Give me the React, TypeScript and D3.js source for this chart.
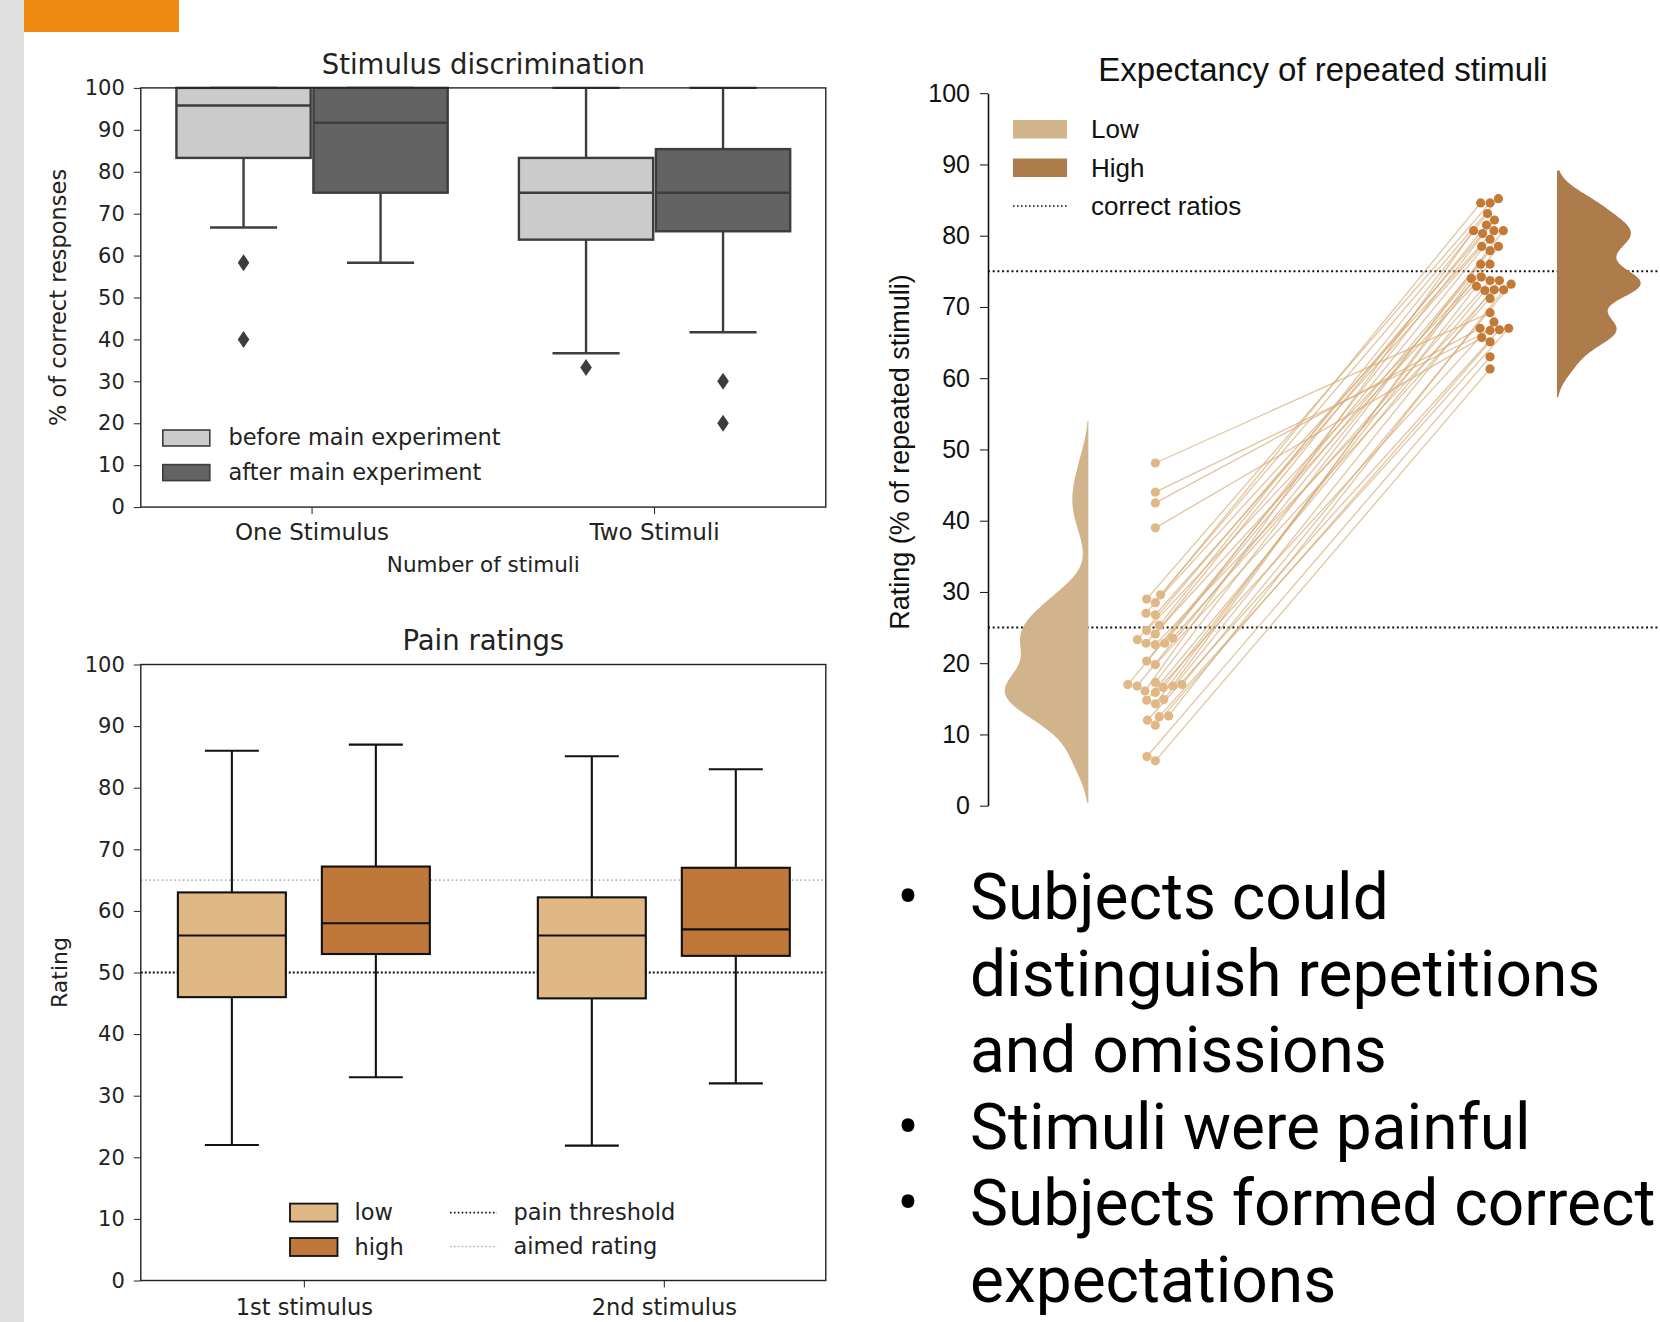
import React, { useEffect, useRef } from "react";
import * as d3 from "d3";

// Stimulus discrimination: [lower whisker, q1, median, q3, upper whisker]
const discCategories = ["One Stimulus", "Two Stimuli"];
const discGroups = ["before main experiment", "after main experiment"];
const discBefore = [
  [66.7, 83.3, 95.8, 100, 100],
  [36.7, 63.8, 75, 83.3, 100],
];
const discAfter = [
  [58.3, 75, 91.7, 100, 100],
  [41.7, 65.8, 75, 85.4, 100],
];
const discBeforeOutliers = [[58.3, 40], [33.3]];
const discAfterOutliers = [[], [30, 20]];

// Pain ratings
const painCategories = ["1st stimulus", "2nd stimulus"];
const painGroups = ["low", "high"];
const painLow = [
  [22, 46, 56, 63, 86],
  [21.9, 45.8, 56, 62.2, 85.1],
];
const painHigh = [
  [33, 53, 58, 67.2, 87],
  [32, 52.7, 57, 67, 83],
];
const painThreshold = 50;
const aimedRating = 65;

// Expectancy of repeated stimuli, one entry per subject (low, high)
const expLow = [
  48.1, 44.0, 42.5, 39.0, 29.6, 29.0, 28.5, 27.0, 26.8, 25.3, 24.6, 24.1,
  23.5, 23.3, 22.8, 22.8, 22.6, 20.3, 19.8, 17.3, 17.0, 17.0, 16.8, 16.8,
  16.6, 16.1, 15.9, 14.9, 14.8, 14.3, 12.6, 12.5, 12.0, 11.3, 6.9, 6.3,
];
const expHigh = [
  69.2, 66.7, 67.0, 65.7, 85.2, 84.6, 80.7, 84.6, 78.5, 83.1, 76.0, 81.5,
  73.7, 80.3, 74.2, 82.2, 72.4, 79.5, 71.2, 80.7, 73.2, 77.9, 74.0, 76.0,
  72.9, 80.7, 67.9, 73.7, 72.3, 78.5, 72.4, 67.0, 66.8, 65.1, 63.0, 61.3,
];
const expLabels = ["Low", "High"];
const correctRatios = [25, 75];

const bulletItems = [
  ["Subjects could", "distinguish repetitions", "and omissions"],
  ["Stimuli were painful"],
  ["Subjects formed correct", "expectations"],
];

const DEJAVU = "'DejaVu Sans', sans-serif";
const ARIAL = "'Liberation Sans', Arial, sans-serif";

function drawBox(g, y, cx, w, s, fill, stroke, sw) {
  const [lo, q1, med, q3, hi] = s;
  g.append("line").attr("x1", cx).attr("x2", cx).attr("y1", y(q1)).attr("y2", y(lo))
    .attr("stroke", stroke).attr("stroke-width", sw);
  g.append("line").attr("x1", cx).attr("x2", cx).attr("y1", y(q3)).attr("y2", y(hi))
    .attr("stroke", stroke).attr("stroke-width", sw);
  [lo, hi].forEach((v) => {
    g.append("line").attr("x1", cx - w / 4).attr("x2", cx + w / 4)
      .attr("y1", y(v)).attr("y2", y(v))
      .attr("stroke", stroke).attr("stroke-width", sw);
  });
  g.append("rect").attr("x", cx - w / 2).attr("y", y(q3))
    .attr("width", w).attr("height", y(q1) - y(q3))
    .attr("fill", fill).attr("stroke", stroke).attr("stroke-width", sw);
  g.append("line").attr("x1", cx - w / 2).attr("x2", cx + w / 2)
    .attr("y1", y(med)).attr("y2", y(med))
    .attr("stroke", stroke).attr("stroke-width", sw);
}

// seaborn-like swarm: place each point at the smallest offset that does not overlap
function swarm(values, y, diam) {
  const order = d3.range(values.length).sort((a, b) => values[a] - values[b]);
  const placed = [];
  const offs = new Array(values.length).fill(0);
  for (const i of order) {
    const py = y(values[i]);
    const near = placed.filter((p) => Math.abs(p.y - py) < diam);
    const cands = [0];
    near.forEach((n) => {
      const dx = Math.sqrt(diam * diam - (n.y - py) ** 2);
      cands.push(n.x - dx, n.x + dx);
    });
    cands.sort((a, b) => Math.abs(a) - Math.abs(b));
    const ok = cands.find((c) =>
      near.every((n) => (n.x - c) ** 2 + (n.y - py) ** 2 >= diam * diam - 0.01)
    );
    offs[i] = ok;
    placed.push({ x: ok, y: py });
  }
  return offs;
}

function kde(values, bwFactor, cut) {
  const bw = bwFactor * d3.deviation(values);
  const lo = d3.min(values) - cut * bw;
  const hi = d3.max(values) + cut * bw;
  return d3.range(0, 241).map((k) => {
    const v = lo + ((hi - lo) * k) / 240;
    return [v, d3.mean(values, (d) => Math.exp(-0.5 * ((v - d) / bw) ** 2))];
  });
}

function styleAxis(g, family, size, color) {
  g.attr("font-family", family).attr("font-size", size);
  g.selectAll("text").attr("fill", color);
  g.selectAll("line").attr("stroke", color);
}

const App = () => {
  const ref = useRef(null);

  useEffect(() => {
    if (!ref.current) return;
    const svg = d3.select(ref.current);
    svg.selectAll("*").remove();

    svg.append("rect").attr("width", 1660).attr("height", 1322).attr("fill", "#fff");
    svg.append("rect").attr("x", 0).attr("y", 0).attr("width", 24).attr("height", 1322).attr("fill", "#e0e0e0");
    svg.append("rect").attr("x", 24).attr("y", 0).attr("width", 155).attr("height", 32).attr("fill", "#ef8a12");

    const ink = "#222";

    // ---------- Stimulus discrimination ----------
    {
      const L = 140.8, R = 825.8, T = 87.9, B = 507.1;
      const g = svg.append("g");
      const x = d3.scaleBand().domain(discCategories).range([L, R]);
      const y = d3.scaleLinear().domain([0, 100]).range([B, T]);
      const bw = x.bandwidth();
      const w = (bw * 0.8) / 2;
      const line = "#3d3d3d";
      const fills = ["#cbcbcb", "#636363"];
      [discBefore, discAfter].forEach((set, gi) => {
        set.forEach((s, ci) => {
          const cx = x(discCategories[ci]) + bw / 2 + (gi === 0 ? -w / 2 : w / 2);
          drawBox(g, y, cx, w * 0.98, s, fills[gi], line, 2.4);
        });
      });
      [discBeforeOutliers, discAfterOutliers].forEach((set, gi) => {
        set.forEach((vals, ci) => {
          const cx = x(discCategories[ci]) + bw / 2 + (gi === 0 ? -w / 2 : w / 2);
          vals.forEach((v) => {
            g.append("path").attr("d", "M0,-8.5L5.8,0L0,8.5L-5.8,0Z")
              .attr("transform", `translate(${cx},${y(v)})`).attr("fill", line);
          });
        });
      });
      g.append("rect").attr("x", L).attr("y", T).attr("width", R - L).attr("height", B - T)
        .attr("fill", "none").attr("stroke", ink).attr("stroke-width", 1.4);
      const ay = g.append("g").attr("transform", `translate(${L},0)`)
        .call(d3.axisLeft(y).tickValues(d3.range(0, 101, 10)).tickSize(7).tickPadding(9));
      ay.select(".domain").remove();
      styleAxis(ay, DEJAVU, 21, ink);
      const ax = g.append("g").attr("transform", `translate(0,${B})`)
        .call(d3.axisBottom(x).tickSize(7).tickPadding(10));
      ax.select(".domain").remove();
      styleAxis(ax, DEJAVU, 23, ink);

      g.append("text").attr("x", (L + R) / 2).attr("y", 74).attr("text-anchor", "middle")
        .attr("font-family", DEJAVU).attr("font-size", 27.5).attr("fill", ink)
        .text("Stimulus discrimination");
      g.append("text").attr("x", (L + R) / 2).attr("y", 572).attr("text-anchor", "middle")
        .attr("font-family", DEJAVU).attr("font-size", 21.5).attr("fill", ink)
        .text("Number of stimuli");
      g.append("text").attr("transform", `translate(66,${(T + B) / 2}) rotate(-90)`)
        .attr("text-anchor", "middle").attr("font-family", DEJAVU).attr("font-size", 22.5)
        .attr("fill", ink).text("% of correct responses");

      discGroups.forEach((name, i) => {
        const ly = 430 + i * 34.6;
        g.append("rect").attr("x", 162.8).attr("y", ly).attr("width", 47).attr("height", 16)
          .attr("fill", fills[i]).attr("stroke", line).attr("stroke-width", 1.6);
        g.append("text").attr("x", 228.4).attr("y", ly + 15).attr("font-family", DEJAVU)
          .attr("font-size", 22.5).attr("fill", ink).text(name);
      });
    }

    // ---------- Pain ratings ----------
    {
      const L = 140.8, R = 825.8, T = 664.5, B = 1280.5;
      const g = svg.append("g");
      const x = d3.scaleLinear().domain([-0.453, 1.45]).range([L, R]);
      const y = d3.scaleLinear().domain([0, 100]).range([B, T]);
      const unit = x(1) - x(0);
      const w = unit * 0.3;
      const fills = ["#dfb886", "#bf773a"];

      g.append("line").attr("x1", L).attr("x2", R).attr("y1", y(aimedRating)).attr("y2", y(aimedRating))
        .attr("stroke", "#b4b4b4").attr("stroke-width", 1.6).attr("stroke-dasharray", "1.6,2.6");
      g.append("line").attr("x1", L).attr("x2", R).attr("y1", y(painThreshold)).attr("y2", y(painThreshold))
        .attr("stroke", "#111").attr("stroke-width", 2.2).attr("stroke-dasharray", "2,2");

      [painLow, painHigh].forEach((set, gi) => {
        set.forEach((s, ci) => {
          drawBox(g, y, x(ci + (gi === 0 ? -0.2 : 0.2)), w, s, fills[gi], "#111", 2.1);
        });
      });

      g.append("rect").attr("x", L).attr("y", T).attr("width", R - L).attr("height", B - T)
        .attr("fill", "none").attr("stroke", ink).attr("stroke-width", 1.4);
      const ay = g.append("g").attr("transform", `translate(${L},0)`)
        .call(d3.axisLeft(y).tickValues(d3.range(0, 101, 10)).tickSize(7).tickPadding(9));
      ay.select(".domain").remove();
      styleAxis(ay, DEJAVU, 21, ink);
      const ax = g.append("g").attr("transform", `translate(0,${B})`)
        .call(d3.axisBottom(x).tickValues([0, 1]).tickFormat((d) => painCategories[d])
          .tickSize(7).tickPadding(12));
      ax.select(".domain").remove();
      styleAxis(ax, DEJAVU, 22.5, ink);

      g.append("text").attr("x", (L + R) / 2).attr("y", 650).attr("text-anchor", "middle")
        .attr("font-family", DEJAVU).attr("font-size", 27.5).attr("fill", ink).text("Pain ratings");
      g.append("text").attr("transform", `translate(67,${(T + B) / 2}) rotate(-90)`)
        .attr("text-anchor", "middle").attr("font-family", DEJAVU).attr("font-size", 22)
        .attr("fill", ink).text("Rating");

      painGroups.forEach((name, i) => {
        const ly = 1203.6 + i * 34.4;
        g.append("rect").attr("x", 290).attr("y", ly).attr("width", 47.5).attr("height", 18)
          .attr("fill", fills[i]).attr("stroke", "#111").attr("stroke-width", 1.8);
        g.append("text").attr("x", 354.6).attr("y", ly + 16.5).attr("font-family", DEJAVU)
          .attr("font-size", 22.5).attr("fill", ink).text(name);
      });
      [["pain threshold", "#111", 1.8], ["aimed rating", "#b4b4b4", 1.5]].forEach(([name, col, sw], i) => {
        const ly = 1212.6 + i * 34;
        g.append("line").attr("x1", 450).attr("x2", 497).attr("y1", ly).attr("y2", ly)
          .attr("stroke", col).attr("stroke-width", sw).attr("stroke-dasharray", "1.6,2.3");
        g.append("text").attr("x", 513.5).attr("y", ly + 7.8).attr("font-family", DEJAVU)
          .attr("font-size", 22.5).attr("fill", ink).text(name);
      });
    }

    // ---------- Expectancy of repeated stimuli ----------
    {
      const L = 988, T = 93.2, B = 805.7;
      const g = svg.append("g");
      const x = d3.scaleLinear().domain([-0.5, 1.5]).range([L, L + 669.4]);
      const y = d3.scaleLinear().domain([0, 100]).range([B, T]);
      const unit = x(1) - x(0);
      const vw = unit * 0.25;
      const violinFill = ["#d2b48c", "#ae7b4b"];
      const dotFill = ["#dfb886", "#c47a36"];

      correctRatios.forEach((v) => {
        g.append("line").attr("x1", L).attr("x2", 1660).attr("y1", y(v)).attr("y2", y(v))
          .attr("stroke", "#111").attr("stroke-width", 2).attr("stroke-dasharray", "2,2.7");
      });

      [expLow, expHigh].forEach((vals, i) => {
        const dens = kde(vals, 0.3, 2);
        const maxD = d3.max(dens, (d) => d[1]);
        const edge = x(i === 0 ? -0.2 : 1.2);
        const sign = i === 0 ? -1 : 1;
        const area = d3.area()
          .y((d) => y(d[0]))
          .x0(edge)
          .x1((d) => edge + sign * (d[1] / maxD) * vw)
          .curve(d3.curveBasis);
        g.append("path").attr("d", area(dens)).attr("fill", violinFill[i]);
      });

      const diam = 9.4;
      const offLow = swarm(expLow, y, diam);
      const offHigh = swarm(expHigh, y, diam);
      expLow.forEach((v, i) => {
        g.append("line")
          .attr("x1", x(0) + offLow[i]).attr("y1", y(v))
          .attr("x2", x(1) + offHigh[i]).attr("y2", y(expHigh[i]))
          .attr("stroke", "#d6ab78").attr("stroke-opacity", 0.7).attr("stroke-width", 1.3);
      });
      [[expLow, offLow, 0], [expHigh, offHigh, 1]].forEach(([vals, offs, i]) => {
        vals.forEach((v, k) => {
          g.append("circle").attr("cx", x(i) + offs[k]).attr("cy", y(v)).attr("r", 4.6)
            .attr("fill", dotFill[i]);
        });
      });

      const ay = g.append("g").attr("transform", `translate(${L},0)`)
        .call(d3.axisLeft(y).tickValues(d3.range(0, 101, 10)).tickSize(8).tickSizeOuter(0).tickPadding(10));
      ay.select(".domain").attr("stroke", "#111").attr("stroke-width", 1.6);
      styleAxis(ay, ARIAL, 25, "#111");

      g.append("text").attr("x", 1323).attr("y", 81).attr("text-anchor", "middle")
        .attr("font-family", ARIAL).attr("font-size", 33).attr("fill", "#111")
        .text("Expectancy of repeated stimuli");
      g.append("text").attr("transform", `translate(909,452) rotate(-90)`)
        .attr("text-anchor", "middle").attr("font-family", ARIAL).attr("font-size", 27)
        .attr("fill", "#111").text("Rating (% of repeated stimuli)");

      expLabels.forEach((name, i) => {
        const ly = 120 + i * 38.5;
        g.append("rect").attr("x", 1013).attr("y", ly).attr("width", 54).attr("height", 18.5)
          .attr("fill", violinFill[i]);
        g.append("text").attr("x", 1091).attr("y", ly + 18).attr("font-family", ARIAL)
          .attr("font-size", 26).attr("fill", "#111").text(name);
      });
      g.append("line").attr("x1", 1013).attr("x2", 1067).attr("y1", 206).attr("y2", 206)
        .attr("stroke", "#111").attr("stroke-width", 1.6).attr("stroke-dasharray", "1.6,2.4");
      g.append("text").attr("x", 1091).attr("y", 215).attr("font-family", ARIAL)
        .attr("font-size", 26).attr("fill", "#111").text("correct ratios");
    }

    // ---------- Bullet text ----------
    {
      const g = svg.append("g").attr("font-family", "Roboto, sans-serif").attr("font-size", 64).attr("fill", "#000");
      let line = 0;
      bulletItems.forEach((item) => {
        g.append("text").attr("x", 908).attr("y", 919 + line * 76.5).attr("text-anchor", "middle").text("•");
        item.forEach((t) => {
          g.append("text").attr("x", 970).attr("y", 919 + line * 76.5).text(t);
          line += 1;
        });
      });
    }
  }, []);

  return (
    <svg
      ref={ref}
      width={1660}
      height={1322}
      style={{ position: "absolute", left: 0, top: 0, display: "block" }}
    />
  );
};

export default App;
